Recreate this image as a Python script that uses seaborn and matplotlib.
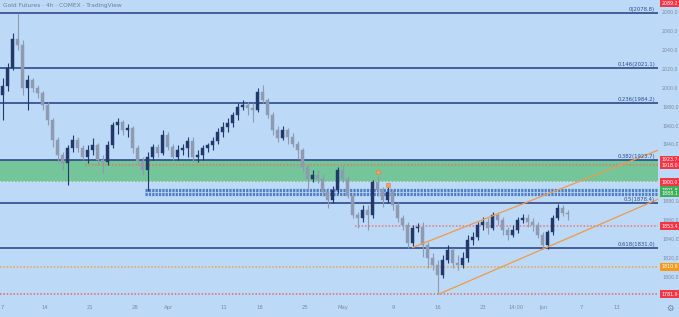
import matplotlib
matplotlib.use('Agg')
import matplotlib.pyplot as plt
import matplotlib.transforms as mtransforms
import seaborn as sns
import pandas as pd

# ---------------- data ----------------
opens = [1992, 2002, 2021, 2052, 2045, 2000, 2008, 2000, 1994, 1982,
         1966, 1945, 1929, 1920, 1936, 1945, 1936, 1927, 1934, 1939,
         1924, 1921, 1939, 1961, 1964, 1955, 1957, 1936, 1923, 1913,
         1927, 1937, 1931, 1950, 1937, 1927, 1934, 1936, 1944, 1927,
         1929, 1936, 1939, 1944, 1953, 1958, 1963, 1971, 1980, 1982,
         1979, 1976, 1995, 1987, 1971, 1955, 1947, 1955, 1948, 1941,
         1934, 1916, 1904, 1908, 1904, 1890, 1881, 1892, 1913, 1904,
         1886, 1865, 1862, 1871, 1865, 1900, 1892, 1881, 1890, 1876,
         1862, 1855, 1836, 1852, 1853, 1834, 1820, 1813, 1802, 1818,
         1828, 1815, 1813, 1820, 1839, 1842, 1855, 1858, 1852, 1865,
         1860, 1850, 1844, 1850, 1860, 1862, 1858, 1855, 1844, 1834,
         1847, 1862, 1873, 1868]
closes = [2002, 2021, 2052, 2045, 2000, 2008, 2000, 1994, 1982, 1966,
          1945, 1929, 1920, 1936, 1945, 1936, 1927, 1934, 1939, 1924,
          1921, 1939, 1961, 1964, 1955, 1957, 1936, 1923, 1913, 1927,
          1937, 1931, 1950, 1937, 1927, 1934, 1936, 1944, 1927, 1929,
          1936, 1939, 1944, 1953, 1958, 1963, 1971, 1980, 1982, 1979,
          1976, 1995, 1987, 1971, 1955, 1947, 1955, 1948, 1941, 1934,
          1916, 1904, 1908, 1904, 1890, 1881, 1892, 1913, 1904, 1886,
          1865, 1862, 1871, 1865, 1900, 1892, 1881, 1890, 1876, 1862,
          1855, 1836, 1852, 1853, 1834, 1820, 1813, 1802, 1818, 1828,
          1815, 1813, 1820, 1839, 1842, 1855, 1858, 1852, 1865, 1860,
          1850, 1844, 1850, 1860, 1862, 1858, 1855, 1844, 1834, 1847,
          1862, 1873, 1868, 1867]
highs = [2010, 2026, 2058, 2079, 2050, 2013, 2010, 2003, 1997, 1985,
         1968, 1948, 1932, 1939, 1950, 1948, 1939, 1939, 1947, 1942,
         1929, 1944, 1964, 1968, 1966, 1962, 1959, 1939, 1927, 1932,
         1941, 1941, 1955, 1953, 1941, 1939, 1941, 1948, 1948, 1934,
         1939, 1942, 1948, 1957, 1964, 1968, 1974, 1984, 1987, 1985,
         1984, 2000, 2003, 1989, 1974, 1959, 1959, 1957, 1952, 1944,
         1936, 1918, 1913, 1913, 1909, 1894, 1896, 1916, 1918, 1907,
         1889, 1869, 1876, 1876, 1902, 1907, 1895, 1895, 1892, 1879,
         1865, 1858, 1855, 1857, 1858, 1837, 1825, 1818, 1823, 1834,
         1831, 1823, 1826, 1844, 1847, 1858, 1863, 1862, 1869, 1869,
         1863, 1853, 1855, 1863, 1867, 1867, 1862, 1858, 1847, 1850,
         1865, 1877, 1876, 1871]
lows = [1966, 1997, 2019, 2040, 1992, 1976, 1995, 1989, 1976, 1961,
        1937, 1921, 1913, 1897, 1932, 1932, 1924, 1920, 1929, 1918,
        1910, 1918, 1936, 1951, 1950, 1948, 1931, 1918, 1908, 1891,
        1924, 1927, 1929, 1934, 1924, 1924, 1929, 1927, 1921, 1921,
        1924, 1932, 1934, 1941, 1948, 1953, 1958, 1966, 1976, 1971,
        1964, 1974, 1984, 1968, 1950, 1943, 1945, 1941, 1937, 1925,
        1911, 1892, 1900, 1899, 1886, 1873, 1878, 1889, 1900, 1883,
        1862, 1852, 1858, 1850, 1862, 1886, 1874, 1878, 1871, 1858,
        1850, 1831, 1833, 1847, 1821, 1809, 1807, 1781.9, 1799, 1815,
        1809, 1807, 1809, 1816, 1834, 1839, 1850, 1845, 1850, 1855,
        1844, 1839, 1842, 1846, 1857, 1853, 1849, 1841, 1830, 1830,
        1844, 1860, 1864, 1860]

fib_ratios = ['0', '0.146', '0.236', '0.382', '0.5', '0.618']
fib_prices = [2078.8, 2021.1, 1984.2, 1923.7, 1878.4, 1831.0]

zone_bottom = 1900.0
zone_top = 1923.7

# dotted levels: price, start bar, colour
dot_prices = [1918.0, 1853.4, 1810.6, 1781.9]
dot_starts = [16.5, 70.5, -0.5, -0.5]
dot_colors = ['#e27a63', '#e47a7a', '#efa24e', '#e06a6a']

support_prices = [1891.8, 1888.1]
support_start = 28.5

label_prices = [2089.2, 1923.7, 1918.0, 1900.0, 1891.8, 1888.1, 1853.4, 1810.6, 1781.9]
label_colors = ['#f23645', '#f23645', '#f23645', '#f23645', '#3fae5a', '#3fae5a',
                '#f23645', '#f59a1b', '#f23645']

channel_upper = ([82, 106], [1831.0, 1881.3])
channel_lower = ([87.3, 115.5], [1781.9, 1846.4])

marker_bars = [75, 77]
marker_prices = [1911, 1897]

xtick_pos = [-0.1, 8.5, 17.5, 26.5, 33.3, 44.3, 51.5, 60.5, 68.1, 78.1, 87.1,
             96.1, 102.7, 108.1, 115.7, 122.9]
xtick_labels = ['7', '14', '21', '28', 'Apr', '11', '18', '25', 'May', '9', '16',
                '23', '14:00', 'Jun', '7', '13']
ytick_vals = [1800, 1820, 1840, 1860, 1880, 1940, 1960, 1980, 2000, 2020, 2040, 2060, 2080]

# ---------------- style ----------------
sns.set_theme(style='white')
plt.rcParams['font.family'] = ['DejaVu Sans']
BG = '#bcd9f8'
FIB = '#2c4a8a'
TXT = '#7d8b9c'
UP = '#22386a'
DOWN = '#8e9ab0'

fig = plt.figure(figsize=(6.79, 3.17), dpi=100, facecolor=BG)
ax = fig.add_axes([0, 19 / 317, 658 / 679, 298 / 317])
ax.set_facecolor(BG)
XMAX = 131.1
ax.set_xlim(-0.5, XMAX)
ax.set_ylim(1777.7, 2092.7)

df = pd.DataFrame({'bar': range(len(closes)), 'open': opens, 'high': highs,
                   'low': lows, 'close': closes})
df['up'] = df['close'] >= df['open']

# zone
ax.axhspan(zone_bottom, zone_top, color='#6cc38f', alpha=0.9, lw=0, zorder=1)
ax.axhline(zone_bottom, color='#d3dceb', lw=1.2, ls=(0, (1, 1)), zorder=1.5)

# fib lines
for r, p in zip(fib_ratios, fib_prices):
    ax.axhline(p, color=FIB, lw=1.2, zorder=2)
    ax.text(XMAX - 0.6, p + 0.8, f'{r}({p:.1f})', ha='right', va='bottom',
            fontsize=3.8, color=FIB, zorder=6)

# dotted levels
for p, s, c in zip(dot_prices, dot_starts, dot_colors):
    ax.hlines(p, s, XMAX, colors=c, lw=1.1, linestyles=(0, (1, 1.2)), zorder=2)
for p in support_prices:
    ax.hlines(p, support_start, XMAX, colors='#4f7fc2', lw=2.3,
              linestyles=(0, (0.7, 0.35)), zorder=2)

# candles
for up, col in [(True, UP), (False, DOWN)]:
    d = df[df['up'] == up]
    ax.vlines(d['bar'], d['low'], d['high'], colors=col, lw=0.8, zorder=3)
    ax.bar(d['bar'], (d['close'] - d['open']).abs().clip(lower=0.8),
           bottom=d[['open', 'close']].min(axis=1), width=0.55, color=col,
           edgecolor=col, lw=0.3, zorder=4)

# channel lines (extended to right edge)
for xs, ys in [channel_upper, channel_lower]:
    slope = (ys[1] - ys[0]) / (xs[1] - xs[0])
    ext_x = [xs[0], XMAX]
    ext_y = [ys[0], ys[0] + slope * (XMAX - xs[0])]
    sns.lineplot(x=ext_x, y=ext_y, ax=ax, color='#ee9a4d', lw=0.9, zorder=5)

# flag markers
ax.scatter(marker_bars, marker_prices, marker='s', s=9, color='#f0a060',
           edgecolor='#d88040', lw=0.4, zorder=6)

# axes ticks
sns.despine(ax=ax, left=True, bottom=True, right=True, top=True)
ax.yaxis.tick_right()
ax.set_yticks(ytick_vals)
ax.set_yticklabels([f'{v:.1f}' for v in ytick_vals])
ax.tick_params(axis='y', length=0, labelsize=3.4, labelcolor=TXT, pad=3)
ax.set_xticks(xtick_pos)
ax.set_xticklabels(xtick_labels)
ax.tick_params(axis='x', length=0, labelsize=3.8, labelcolor=TXT, pad=5)
ax.grid(False)

trans = mtransforms.blended_transform_factory(ax.transAxes, ax.transData)
box_center = (669.5 - 0) / 658
for p, c in zip(label_prices, label_colors):
    ax.text(box_center, p, f'{p:.1f}', transform=trans, ha='center', va='center',
            fontsize=3.4, color='white', clip_on=False, zorder=10,
            bbox=dict(boxstyle='square,pad=0.3', fc=c, ec='none'))

fig.text(3 / 679, 1 - 5 / 317, 'Gold Futures · 4h · COMEX · TradingView',
         ha='left', va='center', fontsize=4.2, color='#6f7f92')
fig.text(670 / 679, 1 - 308 / 317, '⚙', ha='center', va='center',
         fontsize=6, color='#6f7f92')

fig.savefig('out.png', dpi=100, facecolor=BG)
